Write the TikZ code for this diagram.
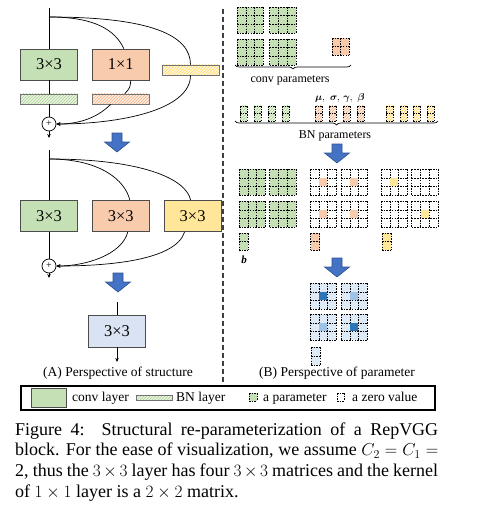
\documentclass[tikz,border=0pt]{standalone}
\usepackage{amsmath}
\usepackage{amssymb}
\usepackage{fontspec}
\setmainfont{Liberation Serif}
\usetikzlibrary{arrows.meta}
\usetikzlibrary{positioning,calc,patterns,decorations.pathreplacing}

\definecolor{convgreen}{HTML}{C5E0B4}
\definecolor{hatchgreen}{HTML}{A9D18E}
\definecolor{onepeach}{HTML}{F8CBAD}
\definecolor{hatchpeach}{HTML}{F4B183}
\definecolor{idyellow}{HTML}{FFE699}
\definecolor{hatchyellow}{HTML}{FFD966}
\definecolor{fusedblue}{HTML}{DAE3F3}
\definecolor{arrowblue}{HTML}{4472C4}
\definecolor{arrowedge}{HTML}{2F528F}
\definecolor{kernblue}{HTML}{DEEBF7}
\definecolor{darkblue}{HTML}{2E75B6}
\definecolor{midblue}{HTML}{9DC3E6}

% a dashed grid of parameters: [fill]{x}{y}{cols}{rows}{cell w}{cell h}
\newcommand{\pgrid}[7][white]{%
  \fill[#1] (#2,#3) rectangle ++(#4*#6,#5*#7);
  \foreach \ci in {0,...,#4} {\draw[cellline] (#2+\ci*#6,#3) -- ++(0,#5*#7);}
  \foreach \ri in {0,...,#5} {\draw[cellline] (#2,#3+\ri*#7) -- ++(#4*#6,0);}
}
\newcommand{\kthree}[3][white]{\pgrid[#1]{#2}{#3}{3}{3}{8.8}{8.8}}
\newcommand{\kcenter}[3]{\fill[#1] (#2+9.3,#3+9.3) rectangle ++(7.8,7.8);}

\tikzset{blockarrow/.pic={
  \draw[draw=arrowedge, fill=arrowblue, line width=0.6pt]
    (-5,0) -- (5,0) -- (5,9) -- (12.5,9) -- (0,19) -- (-12.5,9) -- (-5,9) -- cycle;
}}

\begin{document}
\begin{tikzpicture}[x=1pt,y=-1pt,
    wire/.style={line width=0.7pt},
    arrowtip/.style={-{Stealth[length=4pt,width=3.5pt]}},
    layer/.style={draw=black!70,line width=0.8pt,minimum width=57pt,minimum height=31pt,
                  inner sep=0pt,font=\fontsize{16.5}{18}\selectfont},
    bnlayer/.style={draw=black!55,line width=0.7pt,minimum width=57pt,minimum height=10pt,inner sep=0pt},
    addnode/.style={circle,draw,line width=0.7pt,minimum size=14pt,inner sep=0pt,font=\fontsize{10}{10}\selectfont},
    cellline/.style={line width=0.6pt,dash pattern=on 1.6pt off 1.1pt},
    hatchg/.style={preaction={fill=convgreen!35},pattern=north east lines,pattern color=hatchgreen},
    hatcho/.style={preaction={fill=onepeach!35},pattern=north east lines,pattern color=hatchpeach},
    hatchy/.style={preaction={fill=idyellow!35},pattern=north east lines,pattern color=hatchyellow},
    capfont/.style={inner sep=0pt,font=\fontsize{13.5}{15}\selectfont},
    paramtext/.style={inner sep=0pt,font=\fontsize{12}{14}\selectfont},
    greektext/.style={inner sep=0pt,font=\fontsize{10}{12}\selectfont}]

    \useasboundingbox (0,0) rectangle (492,516);

    % (A) training-time block
    \node[layer,fill=convgreen] (c33a) at (49,64.5) {3×3};
    \node[layer,fill=onepeach,right=14pt of c33a] (c11a) {1×1};
    \node[bnlayer,hatchg] (bnga) at (49,99) {};
    \node[bnlayer,hatcho,right=14pt of bnga] (bnoa) {};
    \node[bnlayer,hatchy] (bnya) at (190.5,70) {};
    \node[addnode] (adda) at (49,124) {+};
    \coordinate (ina) at (49,8);
    \coordinate (bra) at (49,17);
    \coordinate (outa) at (49,138);

    \draw[wire] (ina) -- (c33a);
    \draw[wire] (c33a) -- (bnga);
    \draw[wire] (bnga) -- (adda);
    \draw[wire,arrowtip] (adda) -- (outa);
    \draw[wire] (bra) .. controls (95,17) and (115,30) .. ($(c11a.north)+(3,0)$);
    \draw[wire] (bra) .. controls (150,17) and (190.5,35) .. (bnya.north);
    \draw[wire] ($(c11a.south)+(10,0)$) .. controls (130,88) .. ($(bnoa.north)+(4,0)$);
    \draw[wire,arrowtip] ($(bnoa.south)+(-10,0)$) .. controls (95,120) and (75,124) .. (adda.east);
    \draw[wire,arrowtip] (bnya.south) .. controls (190.5,110) and (120,124) .. (adda.east);

    \pic at (117,133) {blockarrow};

    % three branches with BN folded in
    \node[layer,fill=convgreen] (c33b) at (49,216) {3×3};
    \node[layer,fill=onepeach,right=14pt of c33b] (c33ob) {3×3};
    \node[layer,fill=idyellow,right=14pt of c33ob] (c33yb) {3×3};
    \node[addnode] (addb) at (49,266) {+};
    \coordinate (inb) at (49,150);
    \coordinate (brb) at (49,159);
    \coordinate (outb) at (49,278);

    \draw[wire] (inb) -- (c33b);
    \draw[wire] (c33b) -- (addb);
    \draw[wire,arrowtip] (addb) -- (outb);
    \draw[wire] (brb) .. controls (100,159) and (125,180) .. ($(c33ob.north)+(9,0)$);
    \draw[wire] (brb) .. controls (140,159) and (186,178) .. ($(c33yb.north)+(-2,0)$);
    \draw[wire,arrowtip] ($(c33ob.south)+(7,0)$) .. controls (122,255) and (85,266) .. (addb.east);
    \draw[wire,arrowtip] ($(c33yb.south)+(-8,0)$) .. controls (176,260) and (110,266) .. (addb.east);

    \pic at (118,273) {blockarrow};

    % single 3x3 layer
    \node[layer,fill=fusedblue,minimum height=32pt] (c33c) at (117,331) {3×3};
    \coordinate (inc) at (117,302);
    \coordinate (outc) at (117,362);
    \draw[wire] (inc) -- (c33c);
    \draw[wire,arrowtip] (c33c) -- (outc);
    \node[capfont,anchor=base] (capA) at (118,376) {(A) Perspective of structure};

    \draw[line width=2pt,black!75,dash pattern=on 5pt off 3pt] (223,9) -- (223,383);

    % (B) parameters
    \foreach \x in {237,269.5} \foreach \y in {7,39} {\kthree[convgreen]{\x}{\y}}
    \pgrid[onepeach]{332}{38}{2}{2}{8.7}{8.7}
    \draw[wire,decorate,decoration={brace,mirror,amplitude=4pt}] (235,65) -- (351,65);
    \node[paramtext,anchor=base] (convlbl) at (290,83) {conv parameters};

    \foreach \x in {240,254,268,282} {\pgrid[hatchg]{\x}{106}{1}{2}{7}{7.5}}
    \foreach \x in {315,329,343,357} {\pgrid[hatcho]{\x}{106}{1}{2}{7}{7.5}}
    \foreach \x in {386,400,413,427} {\pgrid[hatchy]{\x}{106}{1}{2}{7}{7.5}}
    \node[greektext,anchor=base] (mulbl) at (320,100) {$\boldsymbol{\mu},$};
    \node[greektext,anchor=base] (sigmalbl) at (335,100) {$\boldsymbol{\sigma},$};
    \node[greektext,anchor=base] (gammalbl) at (348,100) {$\boldsymbol{\gamma},$};
    \node[greektext,anchor=base] (betalbl) at (361,100) {$\boldsymbol{\beta}$};
    \draw[wire,decorate,decoration={brace,mirror,amplitude=4pt}] (235,121) -- (438,121);
    \node[paramtext,anchor=base] (bnlbl) at (335,138) {BN parameters};

    \pic at (337,144) {blockarrow};

    \foreach \x in {239,269.5} \foreach \y in {169,201} {\kthree[convgreen]{\x}{\y}}
    \foreach \x in {310,341} \foreach \y in {169,201} {\kthree{\x}{\y}\kcenter{onepeach}{\x}{\y}}
    \foreach \x in {381,411.5} \foreach \y in {169,201} {\kthree{\x}{\y}}
    \kcenter{idyellow}{381}{169}
    \kcenter{idyellow}{411.5}{201}
    \pgrid[convgreen]{239}{233}{1}{2}{9}{8.5}
    \pgrid[onepeach]{310.5}{233}{1}{2}{9}{8.5}
    \pgrid[idyellow]{382}{233}{1}{2}{9}{8.5}
    \node[greektext,anchor=base,font=\fontsize{11}{12}\selectfont\bfseries\itshape] (blbl) at (244,263) {b};

    \pic at (337,258) {blockarrow};

    \foreach \x in {310,341} \foreach \y in {283,314} {\kthree[kernblue]{\x}{\y}}
    \kcenter{darkblue}{310}{283}
    \kcenter{midblue}{341}{283}
    \kcenter{midblue}{310}{314}
    \kcenter{darkblue}{341}{314}
    \pgrid[kernblue]{311}{347}{1}{2}{9}{9}
    \node[capfont,anchor=base] (capB) at (337,376) {(B) Perspective of parameter};

    % legend
    \node[draw,line width=1.4pt,minimum width=414pt,minimum height=24pt,inner sep=0pt] (legend) at (228,398) {};
    \node[draw=black!70,fill=convgreen,line width=0.8pt,minimum width=35pt,minimum height=19pt,inner sep=0pt] (lgconv) at (48.5,397.5) {};
    \node[capfont,anchor=base west] (lgconvtxt) at (72,401) {conv layer};
    \node[bnlayer,hatchg,minimum width=36pt,minimum height=5pt] (lgbn) at (154,397.5) {};
    \node[capfont,anchor=base west] (lgbntxt) at (176,401) {BN layer};
    \pgrid[convgreen]{249}{393}{1}{1}{8}{8}
    \node[capfont,anchor=base west] (lgparam) at (263,401) {a parameter};
    \pgrid{337}{393}{1}{1}{7}{8}
    \node[capfont,anchor=base west] (lgzero) at (352,401) {a zero value};

    % caption
    \node[anchor=base west,text width=423pt,align=justify,inner sep=0pt,
          font=\fontsize{18}{20.7}\selectfont] (caption) at (15,435)
      {Figure 4:\ \ Structural re-parameterization of a RepVGG\linebreak
       block. For the ease of visualization, we assume $C_2=C_1=$\linebreak
       2, thus the $3\times3$ layer has four $3\times3$ matrices and the kernel\linebreak
       of $1\times1$ layer is a $2\times2$ matrix.};
\end{tikzpicture}
\end{document}
